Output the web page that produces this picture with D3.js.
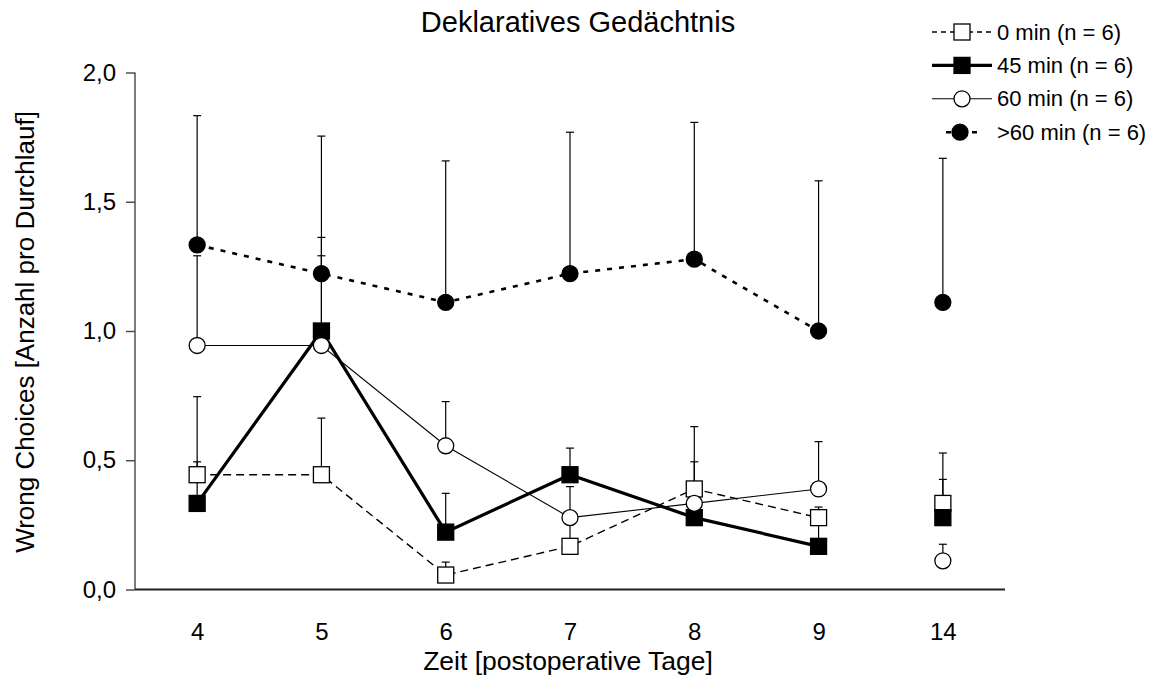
<!DOCTYPE html>
<html>
<head>
<meta charset="utf-8">
<script src="https://cdn.jsdelivr.net/npm/d3@7/dist/d3.min.js"></script>
<style>
  html, body { margin: 0; padding: 0; background: #ffffff; }
  svg { display: block; font-family: "Liberation Sans", Arial, sans-serif; }
</style>
</head>
<body>
<svg id="chart" width="1164" height="676"></svg>
<script>
// Days after surgery (categorical x positions)
const days = ["4", "5", "6", "7", "8", "9", "14"];
const yTickValues = [0, 0.5, 1.0, 1.5, 2.0];
const yTickLabels = ["0,0", "0,5", "1,0", "1,5", "2,0"];

// Mean wrong choices per run and upper error (SEM) for each group
const min0Mean  = [0.444, 0.444, 0.056, 0.167, 0.389, 0.278, 0.333];
const min0Err   = [0.302, 0.219, 0.050, 0.113, 0.241, 0.041, 0.195];
const min45Mean = [0.333, 1.000, 0.222, 0.444, 0.278, 0.167, 0.278];
const min45Err  = [0.161, 0.362, 0.150, 0.103, 0.100, 0.120, 0.148];
const min60Mean = [0.944, 0.944, 0.556, 0.278, 0.333, 0.389, 0.111];
const min60Err  = [0.347, 0.347, 0.171, 0.120, 0.161, 0.183, 0.064];
const over60Mean = [1.333, 1.222, 1.111, 1.222, 1.278, 1.000, 1.111];
const over60Err  = [0.500, 0.532, 0.547, 0.547, 0.529, 0.581, 0.557];

const legendLabels = ["0 min (n = 6)", "45 min (n = 6)", "60 min (n = 6)", ">60 min (n = 6)"];

const series = [
  { label: legendLabels[0], mean: min0Mean,  err: min0Err,  shape: "square", fill: "#ffffff", width: 1.4, dash: "8,5" },
  { label: legendLabels[1], mean: min45Mean, err: min45Err, shape: "square", fill: "#000000", width: 3.2, dash: null },
  { label: legendLabels[2], mean: min60Mean, err: min60Err, shape: "circle", fill: "#ffffff", width: 1.1, dash: null },
  { label: legendLabels[3], mean: over60Mean, err: over60Err, shape: "circle", fill: "#000000", width: 2.6, dash: "5,7" }
];

const svg = d3.select("#chart");
const axisLeftX = 135, axisBottomY = 589.5;

const x = d3.scalePoint().domain(days).range([axisLeftX, 1005]).padding(0.5);
const y = d3.scaleLinear().domain([0, 2]).range([axisBottomY, 72.5]);

// Title
svg.append("text")
  .attr("x", 578).attr("y", 32)
  .attr("text-anchor", "middle")
  .style("font-size", "29px")
  .text("Deklaratives Gedächtnis");

// Y axis
const yAxis = d3.axisLeft(y)
  .tickValues(yTickValues)
  .tickFormat((d, i) => yTickLabels[i])
  .tickSize(9)
  .tickPadding(10);
const gy = svg.append("g").attr("transform", `translate(${axisLeftX},0)`).call(yAxis);
gy.select(".domain").attr("stroke", "#444").attr("stroke-width", 1.4).attr("d", `M0,${y(2)}V${axisBottomY}`);
gy.selectAll(".tick line").attr("stroke", "#444").attr("stroke-width", 1.4);
gy.selectAll(".tick text").style("font-size", "24px").attr("fill", "#000");

// X axis (no tick marks, labels only)
const xAxis = d3.axisBottom(x).tickSize(0).tickPadding(33);
const gx = svg.append("g").attr("transform", `translate(0,${axisBottomY})`).call(xAxis);
gx.select(".domain").attr("stroke", "#222").attr("stroke-width", 1.8).attr("d", `M${axisLeftX},0H1005`);
gx.selectAll(".tick text").style("font-size", "24px").attr("fill", "#000");

// Axis titles
svg.append("text")
  .attr("x", 568).attr("y", 670)
  .attr("text-anchor", "middle")
  .style("font-size", "26.5px")
  .text("Zeit [postoperative Tage]");
svg.append("text")
  .attr("transform", `translate(34,332) rotate(-90)`)
  .attr("text-anchor", "middle")
  .style("font-size", "26px")
  .text("Wrong Choices [Anzahl pro Durchlauf]");

// Connected days 4..9; day 14 stands alone
const connected = days.slice(0, 6);
const lineGen = d3.line().x(d => x(d.day)).y(d => y(d.v));

const plot = svg.append("g");

series.forEach(s => {
  const pts = connected.map((d, i) => ({ day: d, v: s.mean[i] }));
  plot.append("path")
    .attr("d", lineGen(pts))
    .attr("fill", "none")
    .attr("stroke", "#000")
    .attr("stroke-width", s.width)
    .attr("stroke-dasharray", s.dash);
});

// Upward error bars
series.forEach(s => {
  const g = plot.append("g").attr("stroke", "#000").attr("stroke-width", 1.2);
  days.forEach((d, i) => {
    const cx = x(d), top = y(s.mean[i] + s.err[i]);
    g.append("line").attr("x1", cx).attr("x2", cx).attr("y1", y(s.mean[i])).attr("y2", top);
    g.append("line").attr("x1", cx - 4).attr("x2", cx + 4).attr("y1", top).attr("y2", top);
  });
});

function drawMarker(g, shape, fill, cx, cy) {
  if (shape === "square") {
    g.append("rect")
      .attr("x", cx - 8).attr("y", cy - 8)
      .attr("width", 16).attr("height", 16)
      .attr("fill", fill).attr("stroke", "#000").attr("stroke-width", 1.3);
  } else {
    g.append("circle")
      .attr("cx", cx).attr("cy", cy).attr("r", 8)
      .attr("fill", fill).attr("stroke", "#000").attr("stroke-width", 1.3);
  }
}

// Markers on top
series.forEach(s => {
  const g = plot.append("g");
  days.forEach((d, i) => drawMarker(g, s.shape, s.fill, x(d), y(s.mean[i])));
});

// Legend
const legend = svg.append("g");
legend.append("rect").attr("x", 928).attr("y", 10).attr("width", 236).attr("height", 137).attr("fill", "#ffffff");
series.forEach((s, i) => {
  const cy = 32 + i * 33.4;
  const legDash = s.dash ? (i === 3 ? "5,8" : "5,4") : null;
  legend.append("line")
    .attr("x1", i === 3 ? 946 : 932).attr("x2", i === 3 ? 984 : 992)
    .attr("y1", cy).attr("y2", cy)
    .attr("stroke", "#000").attr("stroke-width", s.width)
    .attr("stroke-dasharray", legDash);
  drawMarker(legend, s.shape, s.fill, i === 3 ? 960 : 962, cy);
  legend.append("text")
    .attr("x", 997).attr("y", cy + 7.5)
    .style("font-size", "22px")
    .text(s.label);
});
</script>
</body>
</html>
